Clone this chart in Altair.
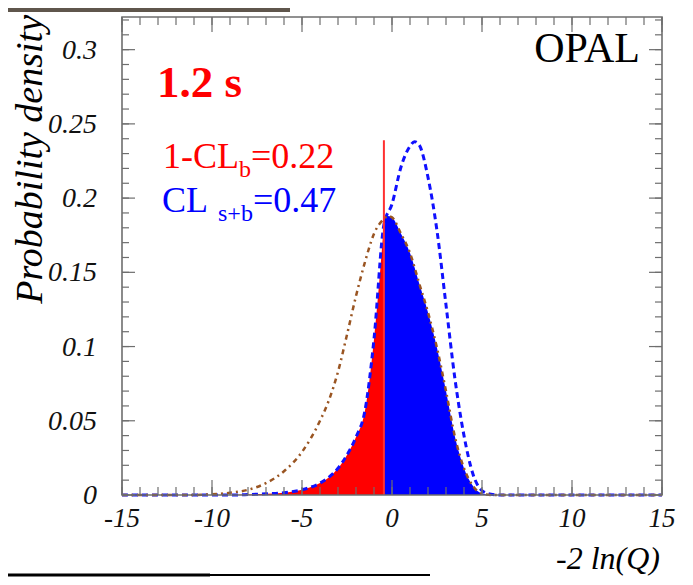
import altair as alt
import pandas as pd

# ---- data ----
# background-like pdf (blue dashed)
b_x = [-15, -9, -8, -7, -6, -5, -4, -3.5, -3, -2.5, -2, -1.5, -1, -0.45, 0, 0.5, 1, 1.25, 1.5, 2, 2.5, 3, 3.5, 4, 4.5, 5, 5.5, 6, 15]
b_y = [0, 0, 0.0003, 0.0008, 0.0015, 0.0035, 0.008, 0.012, 0.018, 0.027, 0.039, 0.057, 0.105, 0.182, 0.196, 0.221, 0.235, 0.238, 0.236, 0.214, 0.178, 0.128, 0.078, 0.040, 0.014, 0.003, 0.0005, 0, 0]
# signal+background pdf (brown dash-dot)
sb_x = [-15, -11, -10, -9, -8, -7, -6, -5, -4, -3.5, -3, -2.5, -2, -1.5, -1, -0.45, -0.25, 0, 0.5, 1, 1.5, 2, 2.5, 3, 3.5, 4, 4.5, 5, 5.5, 15]
sb_y = [0, 0, 0.0005, 0.0015, 0.0035, 0.008, 0.016, 0.029, 0.05, 0.064, 0.083, 0.108, 0.134, 0.157, 0.176, 0.186, 0.188, 0.187, 0.176, 0.163, 0.143, 0.123, 0.099, 0.070, 0.039, 0.018, 0.006, 0.001, 0, 0]
observed = -0.45
observed_top = 0.239

x_major = [-15, -10, -5, 0, 5, 10, 15]
x_labels = ["-15", "-10", "-5", "0", "5", "10", "15"]
x_minor = [-15, -14, -13, -12, -11, -10, -9, -8, -7, -6, -5, -4, -3, -2, -1, 0,
           1, 2, 3, 4, 5, 6, 7, 8, 9, 10, 11, 12, 13, 14, 15]
y_major = [0, 0.05, 0.1, 0.15, 0.2, 0.25, 0.3]
y_labels = ["0", "0.05", "0.1", "0.15", "0.2", "0.25", "0.3"]
y_minor = [0, 0.01, 0.02, 0.03, 0.04, 0.05, 0.06, 0.07, 0.08, 0.09, 0.1, 0.11, 0.12,
           0.13, 0.14, 0.15, 0.16, 0.17, 0.18, 0.19, 0.2, 0.21, 0.22, 0.23, 0.24,
           0.25, 0.26, 0.27, 0.28, 0.29, 0.3, 0.31, 0.32]

W, H = 540, 478
SERIF = "Liberation Serif"
FRAME = "#6e6e6e"

bdf = pd.DataFrame({"x": b_x, "y": b_y})
sdf = pd.DataFrame({"x": sb_x, "y": sb_y})
one = pd.DataFrame({"k": [0]})

xs = alt.Scale(domain=[-15, 15], nice=False, zero=False)
ys = alt.Scale(domain=[0, 0.322], nice=False, zero=False)
X = alt.X("x:Q", scale=xs, axis=None)
Y = alt.Y("y:Q", scale=ys, axis=None)

red_fill = alt.Chart(bdf).transform_filter(alt.datum.x <= observed).mark_area(
    color="#ff0000", interpolate="monotone").encode(x=X, y=Y)
blue_fill = alt.Chart(sdf).transform_filter(alt.datum.x >= observed).mark_area(
    color="#0000ff", interpolate="monotone").encode(x=X, y=Y)
b_line = alt.Chart(bdf).mark_line(color="#1010ff", strokeWidth=3, strokeDash=[6, 4],
                                  interpolate="monotone").encode(x=X, y=Y)
s_line = alt.Chart(sdf).mark_line(color="#9a5522", strokeWidth=2.5, strokeDash=[5, 4, 2, 4],
                                  interpolate="monotone").encode(x=X, y=Y)
obs = alt.Chart(pd.DataFrame({"x": [observed], "y0": [0], "y1": [observed_top]})).mark_rule(
    color="#ff3030", strokeWidth=2).encode(
    x=X, y=alt.Y("y0:Q", scale=ys, axis=None), y2="y1:Q")

# frame and inward ticks
frame = alt.Chart(one).mark_rect(fill=None, stroke=FRAME, strokeWidth=1.6).encode(
    x=alt.value(0), x2=alt.value(W), y=alt.value(0), y2=alt.value(H))

def xticks(vals, length, top):
    d = pd.DataFrame({"v": vals})
    y0, y1 = (0, length) if top else (H, H - length)
    return alt.Chart(d).mark_rule(color=FRAME, strokeWidth=1.2).encode(
        x=alt.X("v:Q", scale=xs, axis=None), y=alt.value(y0), y2=alt.value(y1))

def yticks(vals, length, right):
    d = pd.DataFrame({"v": vals})
    x0, x1 = (W, W - length) if right else (0, length)
    return alt.Chart(d).mark_rule(color=FRAME, strokeWidth=1.2).encode(
        y=alt.Y("v:Q", scale=ys, axis=None), x=alt.value(x0), x2=alt.value(x1))

ticks = [xticks(x_minor, 8, False), xticks(x_major, 15, False),
         xticks(x_minor, 8, True), xticks(x_major, 15, True),
         yticks(y_minor, 7, False), yticks(y_major, 13, False),
         yticks(y_minor, 7, True), yticks(y_major, 13, True)]

x_tick_labels = alt.Chart(pd.DataFrame({"v": x_major, "t": x_labels})).mark_text(
    font=SERIF, fontSize=27, fontStyle="italic", color="#111", align="center",
    baseline="alphabetic").encode(
    x=alt.X("v:Q", scale=xs, axis=None), y=alt.value(H + 32), text="t:N")
y_tick_labels = alt.Chart(pd.DataFrame({"v": y_major, "t": y_labels})).mark_text(
    font=SERIF, fontSize=28, fontStyle="italic", color="#111", align="right",
    baseline="middle", dy=1).encode(
    y=alt.Y("v:Q", scale=ys, axis=None), x=alt.value(-25), text="t:N")

def label(text, x, y, size, color="#000", weight="normal", style="normal", align="left", angle=0):
    return alt.Chart(pd.DataFrame({"t": [text]})).mark_text(
        font=SERIF, fontSize=size, fontWeight=weight, fontStyle=style, color=color,
        align=align, baseline="alphabetic", angle=angle).encode(
        x=alt.value(x), y=alt.value(y), text="t:N")

texts = [
    label("OPAL", 518, 45, 42, align="right"),
    label("1.2 s", 35, 80, 45, color="#ff0000", weight="bold"),
    label("1-CL", 41, 151, 36, color="#ff0000"),
    label("b", 117, 160, 24, color="#ff0000"),
    label("=0.22", 129, 151, 36, color="#ff0000"),
    label("CL", 40, 195, 36, color="#0000ff"),
    label("s+b", 96, 204, 24, color="#0000ff"),
    label("=0.47", 131, 195, 36, color="#0000ff"),
    label("-2 ln(Q)", 538, 552, 32, style="italic", align="right"),
    label("Probability density", -80, -2, 38, style="italic", align="right", angle=270),
]

top_bar = alt.Chart(one).mark_rect(color="#5f564c").encode(
    x=alt.value(-114), x2=alt.value(168), y=alt.value(-9), y2=alt.value(-5))
bottom_thick = alt.Chart(one).mark_rule(color="#000", strokeWidth=3).encode(
    x=alt.value(-114), x2=alt.value(88), y=alt.value(558))
bottom_thin = alt.Chart(one).mark_rule(color="#000", strokeWidth=2).encode(
    x=alt.value(88), x2=alt.value(308), y=alt.value(558))

chart = alt.layer(red_fill, blue_fill, b_line, s_line, obs, frame, *ticks,
                  x_tick_labels, y_tick_labels, *texts,
                  top_bar, bottom_thick, bottom_thin).properties(
    width=W, height=H,
    autosize=alt.AutoSizeParams(type="none"),
    padding={"left": 114, "top": 9, "right": 23, "bottom": 82},
    background="white",
).configure_view(stroke=None)

chart.save("out.html", embed_options={"renderer": "svg", "actions": False})
